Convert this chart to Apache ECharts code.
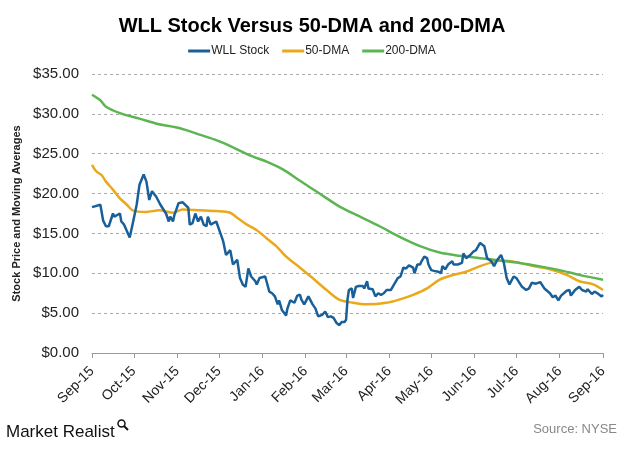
<!DOCTYPE html>
<html>
<head>
<meta charset="utf-8">
<script src="https://cdn.jsdelivr.net/npm/echarts@6/dist/echarts.min.js"></script>
<style>
  html, body { margin: 0; padding: 0; background: #fff; }
  #chart { width: 624px; height: 454px; }
</style>
</head>
<body>
<div id="chart"></div>
<script>
// ---- Tick labels (x axis) ----
const tickDates = ['2015-09-08','2015-10-08','2015-11-08','2015-12-08','2016-01-08','2016-02-08','2016-03-08',
  '2016-04-08','2016-05-08','2016-06-08','2016-07-08','2016-08-08','2016-09-08'];
const tickLabels = ['Sep-15','Oct-15','Nov-15','Dec-15','Jan-16','Feb-16','Mar-16','Apr-16','May-16','Jun-16','Jul-16','Aug-16','Sep-16'];
const yTicks = [0, 5, 10, 15, 20, 25, 30, 35];

// ---- WLL Stock ----
const stockDates = ['2015-09-08','2015-09-14','2015-09-16','2015-09-18','2015-09-20','2015-09-23','2015-09-24','2015-09-28','2015-09-29',
  '2015-10-01','2015-10-05','2015-10-07','2015-10-10','2015-10-12','2015-10-15','2015-10-17','2015-10-19','2015-10-21','2015-10-24','2015-10-25','2015-10-27','2015-10-28','2015-10-31',
  '2015-11-02','2015-11-03','2015-11-05','2015-11-06','2015-11-09','2015-11-12','2015-11-16','2015-11-17','2015-11-19','2015-11-21','2015-11-23','2015-11-25','2015-11-27','2015-11-29','2015-11-30',
  '2015-12-02','2015-12-06','2015-12-09','2015-12-11','2015-12-13','2015-12-14','2015-12-16','2015-12-18','2015-12-19','2015-12-21','2015-12-23','2015-12-25','2015-12-27','2015-12-29','2015-12-31',
  '2016-01-03','2016-01-04','2016-01-06','2016-01-10','2016-01-11','2016-01-13','2016-01-15','2016-01-17','2016-01-19','2016-01-20','2016-01-22','2016-01-25','2016-01-26','2016-01-28','2016-01-31',
  '2016-02-02','2016-02-04','2016-02-05','2016-02-07','2016-02-10','2016-02-13','2016-02-15','2016-02-17','2016-02-20','2016-02-22','2016-02-24','2016-02-26','2016-02-28',
  '2016-03-01','2016-03-03','2016-03-05','2016-03-07','2016-03-08','2016-03-09','2016-03-10','2016-03-12','2016-03-13','2016-03-15','2016-03-17','2016-03-20','2016-03-21','2016-03-23','2016-03-24','2016-03-27','2016-03-29','2016-03-31',
  '2016-04-02','2016-04-04','2016-04-06','2016-04-09','2016-04-12','2016-04-14','2016-04-16','2016-04-18','2016-04-20','2016-04-22','2016-04-25','2016-04-26','2016-04-28','2016-04-30',
  '2016-05-01','2016-05-03','2016-05-05','2016-05-06','2016-05-08','2016-05-10','2016-05-13','2016-05-15','2016-05-16','2016-05-18','2016-05-20','2016-05-23','2016-05-24','2016-05-27','2016-05-30','2016-05-31',
  '2016-06-02','2016-06-05','2016-06-07','2016-06-09','2016-06-12','2016-06-13','2016-06-15','2016-06-17','2016-06-20','2016-06-22','2016-06-24','2016-06-27','2016-06-29',
  '2016-07-01','2016-07-03','2016-07-06','2016-07-08','2016-07-12','2016-07-15','2016-07-17','2016-07-19','2016-07-22','2016-07-25','2016-07-28',
  '2016-08-01','2016-08-03','2016-08-05','2016-08-07','2016-08-09','2016-08-13','2016-08-15','2016-08-16','2016-08-19','2016-08-22','2016-08-24','2016-08-27','2016-08-28','2016-08-31',
  '2016-09-02','2016-09-04','2016-09-07','2016-09-08'];
const stockValues = [18.3,18.6,16.6,15.9,15.9,17.5,17.1,17.5,16.5,
  16.1,14.5,16.1,18.6,21.1,22.4,21.5,19.2,20.3,19.6,19.8,18.6,18.8,17.5,
  16.5,17.1,16.5,17.3,18.8,18.9,18.2,16.1,16.3,17.5,16.5,17.1,16.1,15.9,17.1,
  16.1,16.5,15.0,14.0,12.3,12.4,12.9,11.1,10.9,11.7,9.4,8.6,8.3,10.6,9.6,
  9.0,8.6,9.4,9.6,9.0,7.7,7.5,7.1,6.1,6.6,5.4,4.7,5.6,6.6,6.3,
  7.2,7.3,6.7,6.1,7.1,6.1,5.6,4.6,4.8,5.2,4.5,4.6,4.4,
  3.8,3.5,3.9,3.9,4.2,6.7,7.9,8.1,6.9,8.3,8.4,8.4,8.1,9.0,8.1,8.0,7.1,7.5,
  7.3,7.5,7.9,7.9,8.8,9.4,9.6,10.7,10.6,11.0,10.7,10.0,11.1,11.1,
  11.5,12.1,11.9,11.1,10.4,10.3,10.2,10.0,10.9,10.5,11.1,11.5,11.1,11.1,11.3,12.5,
  11.9,12.3,12.7,12.9,13.8,13.9,13.4,11.9,11.5,10.9,11.6,12.3,11.3,
  9.4,8.6,9.6,9.4,8.3,7.9,8.1,8.8,8.7,8.9,8.1,
  7.5,7.0,7.2,6.6,7.2,7.8,7.9,7.2,7.9,8.3,7.9,7.7,8.0,7.4,
  7.7,7.5,7.1,7.3];

// ---- 50-DMA ----
const dma50Dates = ['2015-09-08','2015-09-11','2015-09-15','2015-09-18','2015-09-23','2015-09-28','2015-10-03','2015-10-07','2015-10-17','2015-10-26',
  '2015-11-05','2015-11-12','2015-11-24','2015-12-06','2015-12-16','2015-12-20','2015-12-28','2016-01-04','2016-01-11','2016-01-18','2016-01-25',
  '2016-02-04','2016-02-13','2016-02-23','2016-03-03','2016-03-13','2016-03-23','2016-04-06','2016-04-15','2016-04-25','2016-05-05','2016-05-14','2016-05-24',
  '2016-06-02','2016-06-12','2016-06-21','2016-06-28','2016-07-08','2016-07-20','2016-08-01','2016-08-13','2016-08-22','2016-09-01','2016-09-08'];
const dma50Values = [23.6,22.8,22.3,21.5,20.5,19.4,18.6,17.9,17.7,17.9,
  17.6,18.0,17.9,17.8,17.6,17.1,16.1,15.4,14.4,13.4,12.1,
  10.7,9.4,7.9,6.7,6.3,6.1,6.3,6.7,7.3,8.1,9.2,9.8,
  10.2,10.9,11.4,11.6,11.4,10.9,10.5,9.8,9.0,8.6,7.9];

// ---- 200-DMA ----
const dma200Dates = ['2015-09-08','2015-09-14','2015-09-18','2015-09-28','2015-10-12','2015-10-26','2015-11-10','2015-11-24','2015-12-06','2015-12-18','2015-12-30',
  '2016-01-11','2016-01-23','2016-02-04','2016-02-18','2016-03-03','2016-03-18','2016-04-01','2016-04-15','2016-04-30','2016-05-14','2016-05-28',
  '2016-06-12','2016-06-26','2016-07-10','2016-07-24','2016-08-08','2016-08-22','2016-09-08'];
const dma200Values = [32.4,31.7,30.9,30.1,29.4,28.7,28.2,27.4,26.7,25.8,24.8,
  24.0,23.0,21.6,20.0,18.4,17.1,15.9,14.6,13.4,12.6,12.2,
  11.9,11.6,11.3,10.9,10.4,9.8,9.2];

function ts(s) { const p = s.split('-').map(Number); return Date.UTC(p[0], p[1] - 1, p[2]); }
function pairs(dates, vals) { return dates.map((d, i) => [ts(d), vals[i]]); }
const tickTs = tickDates.map(ts);

const chart = echarts.init(document.getElementById('chart'), null, { renderer: 'canvas' });
const FONT = 'Liberation Sans, Arial, sans-serif';

chart.setOption({
  animation: false,
  backgroundColor: '#ffffff',
  title: {
    text: 'WLL Stock Versus 50-DMA and 200-DMA',
    left: 'center', top: 11,
    textStyle: { fontFamily: FONT, fontSize: 20, fontWeight: 'bold', color: '#000' }
  },
  legend: {
    top: 40, left: 'center',
    itemWidth: 22, itemHeight: 3, itemGap: 13,
    icon: 'rect',
    textStyle: { fontFamily: FONT, fontSize: 12, color: '#222', padding: [0, 0, 0, -4] },
    data: ['WLL Stock', '50-DMA', '200-DMA']
  },
  grid: { left: 92, right: 21, top: 74, bottom: 101, containLabel: false },
  xAxis: {
    type: 'value',
    min: tickTs[0], max: tickTs[tickTs.length - 1],
    axisLine: { show: true, lineStyle: { color: '#999', width: 1 } },
    axisTick: { show: true, length: 5, lineStyle: { color: '#999' }, customValues: tickTs },
    axisLabel: {
      customValues: tickTs,
      rotate: 45, margin: 16,
      fontFamily: FONT, fontSize: 14, color: '#222',
      formatter: function (v) {
        let best = 0, bd = Infinity;
        tickTs.forEach((t, i) => { const d = Math.abs(t - v); if (d < bd) { bd = d; best = i; } });
        return tickLabels[best];
      }
    },
    splitLine: { show: false }
  },
  yAxis: {
    type: 'value',
    min: 0, max: 35, interval: 5,
    name: 'Stock Price and Moving Averages',
    nameLocation: 'middle', nameGap: 57, nameRotate: 90,
    nameTextStyle: { fontFamily: FONT, fontSize: 11, fontWeight: 'bold', color: '#222' },
    axisLine: { show: false },
    axisTick: { show: false },
    axisLabel: {
      margin: 13, fontFamily: FONT, fontSize: 15, color: '#222',
      formatter: v => '$' + v.toFixed(2)
    },
    splitLine: { show: true, lineStyle: { color: '#aaa', type: [3, 3], width: 1 } }
  },
  series: [
    { name: 'WLL Stock', type: 'line', data: pairs(stockDates, stockValues), showSymbol: false,
      lineStyle: { color: '#19609a', width: 2.5 }, itemStyle: { color: '#19609a' }, z: 5 },
    { name: '50-DMA', type: 'line', data: pairs(dma50Dates, dma50Values), showSymbol: false, smooth: 0.3,
      lineStyle: { color: '#eaa81b', width: 2.5 }, itemStyle: { color: '#eaa81b' }, z: 3 },
    { name: '200-DMA', type: 'line', data: pairs(dma200Dates, dma200Values), showSymbol: false, smooth: 0.3,
      lineStyle: { color: '#5cb552', width: 2.5 }, itemStyle: { color: '#5cb552' }, z: 4 }
  ],
  graphic: [
    { type: 'text', left: 6, top: 424,
      style: { text: 'Market Realist', fontFamily: FONT, fontSize: 17, fill: '#111' } },
    { type: 'circle', shape: { cx: 121.5, cy: 423.5, r: 3.5 }, style: { fill: 'none', stroke: '#111', lineWidth: 1.5 } },
    { type: 'line', shape: { x1: 124, y1: 426, x2: 128, y2: 430 }, style: { stroke: '#111', lineWidth: 2 } },
    { type: 'text', right: 7, top: 423,
      style: { text: 'Source: NYSE', fontFamily: FONT, fontSize: 13, fill: '#888' } }
  ]
});
</script>
</body>
</html>
